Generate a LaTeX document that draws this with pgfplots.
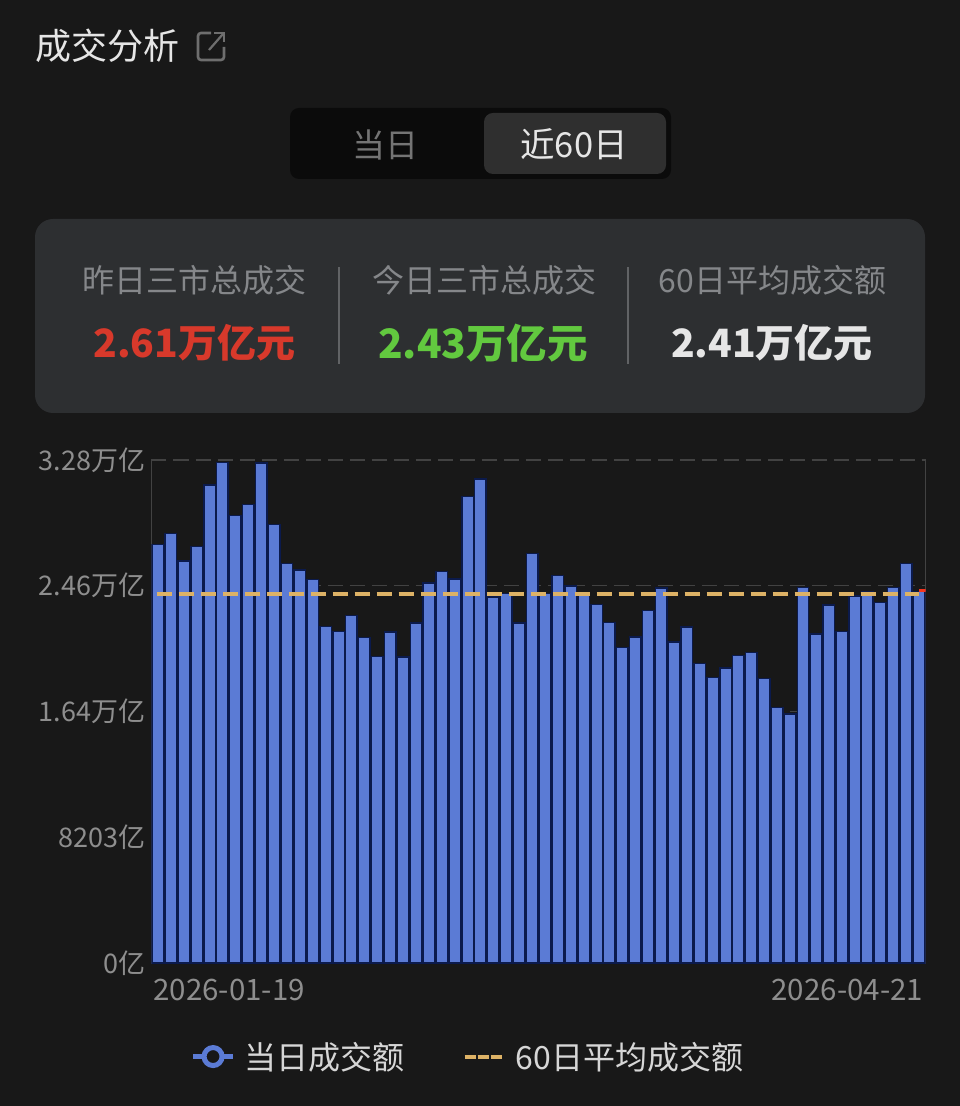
\documentclass[border=0pt]{standalone}
\usepackage{fontspec}
\setmainfont{Noto Sans CJK SC}
\usepackage{pgfplots}
\usepackage{pgfplotstable}
\pgfplotsset{compat=1.18}
\definecolor{bgc}{HTML}{181818}
\definecolor{panelc}{HTML}{2D2F31}
\definecolor{barc}{HTML}{5B7BD5}
\definecolor{gapc}{HTML}{0B1A4C}
\definecolor{avgc}{HTML}{DDB266}
\definecolor{gridc}{HTML}{424242}
\definecolor{tickc}{HTML}{8E8E8E}
\definecolor{labc}{HTML}{85878A}
\definecolor{redc}{HTML}{D8392B}
\definecolor{greenc}{HTML}{62C93F}
\definecolor{whitec}{HTML}{E6E6E6}
\definecolor{legc}{HTML}{D6D6D6}
\definecolor{iconc}{HTML}{6E6E6E}
\newcommand{\fs}[1]{\fontsize{#1}{#1}\selectfont}
\pgfplotstableread{
x v
0 2.730
1 2.802
2 2.621
3 2.715
4 3.117
5 3.262
6 2.919
7 2.991
8 3.259
9 2.861
10 2.604
11 2.563
12 2.502
13 2.193
14 2.160
15 2.267
16 2.121
17 1.997
18 2.158
19 1.995
20 2.217
21 2.478
22 2.554
23 2.504
24 3.043
25 3.156
26 2.387
27 2.411
28 2.217
29 2.669
30 2.411
31 2.526
32 2.458
33 2.411
34 2.336
35 2.222
36 2.059
37 2.126
38 2.300
39 2.445
40 2.093
41 2.191
42 1.954
43 1.860
44 1.924
45 2.004
46 2.023
47 1.854
48 1.667
49 1.624
50 2.450
51 2.145
52 2.335
53 2.160
54 2.393
55 2.424
56 2.352
57 2.450
58 2.604
59 2.424
}\daily
\begin{document}
\begin{tikzpicture}
\begin{scope}[x=1pt,y=1pt]
\fill[bgc] (0,0) rectangle (960,1106);
\path[use as bounding box] (0,0) rectangle (960,1106);
% title and icon
\node[anchor=west,text=whitec,inner sep=0pt] at (35,1060) {\fs{36}成交分析};
\draw[iconc,line width=2.6pt,rounded corners=3pt] (211,1073) -- (198,1073) -- (198,1046) -- (224,1046) -- (224,1059);
\draw[iconc,line width=2.2pt] (209,1056) -- (223,1072);
\draw[iconc,line width=2.2pt] (214,1073) -- (224,1073) -- (224,1064);
% segmented control
\fill[color=black!55!bgc,rounded corners=9pt] (290,927) rectangle (671,998);
\fill[color=white!10!bgc,rounded corners=9pt] (484,932) rectangle (666,993);
\node[text=white!40!bgc,inner sep=0pt] at (385,961.5) {\fs{33}当日};
\node[text=whitec,inner sep=0pt] at (574,961.5) {\fs{34.5}近60日};
% summary panel
\fill[panelc,rounded corners=18pt] (35,693) rectangle (925,887);
\draw[color=white!25!panelc,line width=1.6pt] (339,742) -- (339,839);
\draw[color=white!25!panelc,line width=1.6pt] (628,742) -- (628,839);
\node[text=labc,inner sep=0pt] at (194.5,826) {\fs{32}昨日三市总成交};
\node[text=labc,inner sep=0pt] at (484,826) {\fs{32}今日三市总成交};
\node[text=labc,inner sep=0pt] at (772.5,826) {\fs{32}60日平均成交额};
\node[text=redc,inner sep=0pt] at (194.5,763) {\fs{39}\bfseries 2.61万亿元};
\node[text=greenc,inner sep=0pt] at (483,763) {\fs{40.5}\bfseries 2.43万亿元};
\node[text=whitec,inner sep=0pt] at (772,763) {\fs{39}\bfseries 2.41万亿元};
\end{scope}
\begin{axis}[
  at={(151.5pt,143pt)}, anchor=south west,
  scale only axis, width=774pt, height=503pt,
  xmin=-0.5, xmax=59.5, ymin=0, ymax=3.28,
  xtick={0,59},
  xticklabels={\hspace*{-9pt}\rlap{2026-01-19},\llap{2026-04-21}\hspace*{-8pt}},
  ytick={0,0.8203,1.64,2.46,3.28},
  yticklabels={0亿,8203亿,1.64万亿,2.46万亿,3.28万亿},
  tick style={draw=none},
  major tick length=0pt,
  ticklabel style={text=tickc,inner sep=0pt},
  yticklabel style={font=\fs{27},xshift=-6pt},
  xticklabel style={font=\fs{29.5},yshift=-16pt},
  separate axis lines,
  x axis line style={draw=none},
  y axis line style={draw=gridc,line width=1.2pt},
  ymajorgrids,
  grid style={draw=gridc,line width=1.5pt,dash pattern=on 15pt off 7pt},
  legend columns=2,
  legend style={at={(0.4087,-0.186)},anchor=center,draw=none,fill=none,
    font=\fs{32},text=legc,inner sep=0pt,
    /tikz/every even column/.style={column sep=56pt}},
  legend cell align=left,
]
\addplot[ybar,bar shift=0pt,bar width=11.45pt,fill=barc,draw=gapc,line width=1.45pt,
  legend image code/.code={
    \draw[barc,line width=5pt] (-2pt,0) -- (38pt,0);
    \draw[barc,line width=5pt,fill=bgc] (18pt,0) circle (9pt);
  }] table[x=x,y=v] {\daily};
\addlegendentry{\hspace*{7pt}当日成交额}
\addplot[avgc,line width=3.5pt,dash pattern=on 15pt off 7pt,
  legend image code/.code={
    \draw[avgc,line width=4pt,dash pattern=on 11pt off 2pt] (0,0) -- (37pt,0);
  }] coordinates {(-0.1,2.406) (59,2.406)};
\addlegendentry{\hspace*{10pt}60日平均成交额}
\addplot[forget plot,color=red!70!avgc,line width=2.5pt] coordinates {(59,2.43) (59.5,2.43)};
\end{axis}
\end{tikzpicture}
\end{document}
